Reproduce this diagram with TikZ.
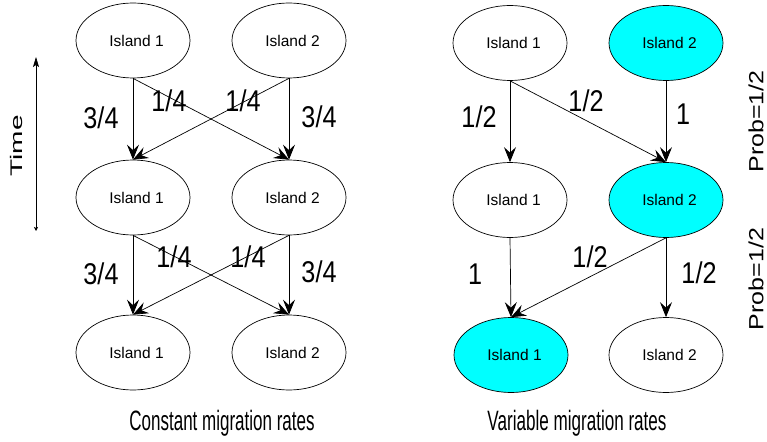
\documentclass[tikz,border=0pt]{standalone}
\usepackage{fontspec}
\setmainfont{Liberation Sans}
\usetikzlibrary{shapes.geometric,arrows.meta}
\definecolor{cyanfill}{HTML}{00FFFF}
\tikzset{
  isl/.style={ellipse,draw,line width=0.7pt,minimum width=114pt,minimum height=75pt,inner sep=0pt,font=\fontsize{15.5}{18}\selectfont,execute at begin node={\hspace*{7pt}}},
  hl/.style={isl,fill=cyanfill},
  arr/.style={line width=0.7pt,-{Stealth[length=15pt,width=12pt,inset=5.5pt]}},
  rate/.style={inner sep=0pt,font=\fontsize{30}{32}\selectfont},
  captext/.style={inner sep=0pt,anchor=base,font=\fontsize{28}{30}\selectfont},
}
\newcommand{\sq}[1]{\scalebox{0.84}[1]{#1}}
\begin{document}
\begin{tikzpicture}[x=1pt,y=-1pt]
\useasboundingbox (0,0) rectangle (767,441);
% left panel
\node[isl] (a11) at (133,40.5) {Island 1};
\node[isl] (a12) at (289,40.5) {Island 2};
\node[isl] (a21) at (133,197.5) {Island 1};
\node[isl] (a22) at (289,197.5) {Island 2};
\node[isl] (a31) at (133,352.5) {Island 1};
\node[isl] (a32) at (289,352.5) {Island 2};
\draw[arr] (a11.south) -- (a21.north);
\draw[arr] (a11.south) -- (a22.north);
\draw[arr] (a12.south) -- (a21.north);
\draw[arr] (a12.south) -- (a22.north);
\draw[arr] (a21.south) -- (a31.north);
\draw[arr] (a21.south) -- (a32.north);
\draw[arr] (a22.south) -- (a31.north);
\draw[arr] (a22.south) -- (a32.north);
\node[rate] (la1) at (101,118) {\sq{3/4}};
\node[rate] (la2) at (169,101) {\sq{1/4}};
\node[rate] (la3) at (243,101) {\sq{1/4}};
\node[rate] (la4) at (319,117) {\sq{3/4}};
\node[rate] (lb1) at (101,274) {\sq{3/4}};
\node[rate] (lb2) at (174,257) {\sq{1/4}};
\node[rate] (lb3) at (248,257) {\sq{1/4}};
\node[rate] (lb4) at (319,272) {\sq{3/4}};
\node[captext] (capL) at (222,430) {\scalebox{0.607}[1]{Constant migration rates}};
% time axis
\coordinate (tbot) at (36,231);
\coordinate (ttop) at (36,57);
\draw[line width=0.7pt,{Stealth[length=4pt,width=4pt,inset=1pt]}-{Stealth[length=10pt,width=6pt,inset=2pt]}] (tbot) -- (ttop);
\node[inner sep=0pt,rotate=90] (time) at (16,146) {\scalebox{1}[0.6]{\fontsize{28}{30}\selectfont Time}};
% right panel
\node[isl] (b11) at (510,43) {Island 1};
\node[hl] (b12) at (666,43) {Island 2};
\node[isl] (b21) at (510,200) {Island 1};
\node[hl] (b22) at (666,200) {Island 2};
\node[hl] (b31) at (511,355) {Island 1};
\node[isl] (b32) at (666,355) {Island 2};
\draw[arr] (b11.south) -- (b21.north);
\draw[arr] (b11.south) -- (b22.north);
\draw[arr] (b12.south) -- (b22.north);
\draw[arr] (b21.south) -- (b31.north);
\draw[arr] (b22.south) -- (b31.north);
\draw[arr] (b22.south) -- (b32.north);
\node[rate] (lc1) at (479,117) {\sq{1/2}};
\node[rate] (lc2) at (586,101) {\sq{1/2}};
\node[rate] (lc3) at (683,114) {\sq{1}};
\node[rate] (ld1) at (475,274) {\sq{1}};
\node[rate] (ld2) at (590,257) {\sq{1/2}};
\node[rate] (ld3) at (699,273) {\sq{1/2}};
\node[captext] (capR) at (577,430) {\scalebox{0.61}[1]{Variable migration rates}};
\node[inner sep=0pt,rotate=90] (p1) at (756,121.5) {\scalebox{1}[0.82]{\fontsize{25}{27}\selectfont Prob=1/2}};
\node[inner sep=0pt,rotate=90] (p2) at (756,279) {\scalebox{1}[0.82]{\fontsize{25}{27}\selectfont Prob=1/2}};
\end{tikzpicture}
\end{document}
